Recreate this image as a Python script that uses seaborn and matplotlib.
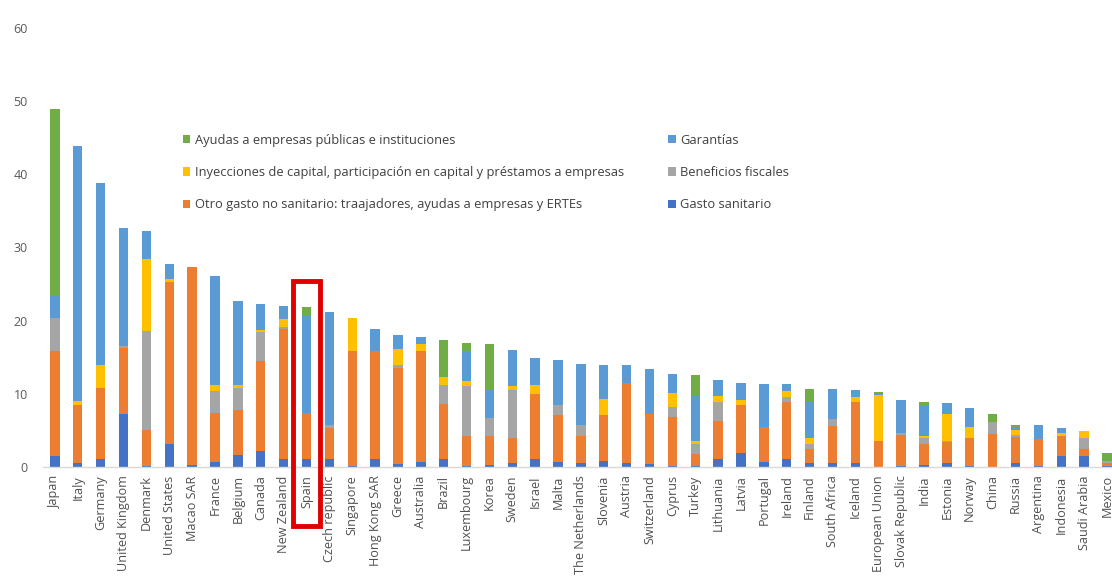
import numpy as np
import pandas as pd
import seaborn as sns
import matplotlib.pyplot as plt
from matplotlib.patches import Patch, Rectangle

countries = ["Japan", "Italy", "Germany", "United Kingdom", "Denmark", "United States",
             "Macao SAR", "France", "Belgium", "Canada", "New Zealand", "Spain",
             "Czech republic", "Singapore", "Hong Kong SAR", "Greece", "Australia", "Brazil",
             "Luxembourg", "Korea", "Sweden", "Israel", "Malta", "The Netherlands", "Slovenia",
             "Austria", "Switzerland", "Cyprus", "Turkey", "Lithuania", "Latvia", "Portugal",
             "Ireland", "Finland", "South Africa", "Iceland", "European Union",
             "Slovak Republic", "India", "Estonia", "Norway", "China", "Russia", "Argentina",
             "Indonesia", "Saudi Arabia", "Mexico"]

# % del PIB (de abajo hacia arriba en cada barra)
gasto_sanitario = [1.5, 0.5, 1.1, 7.3, 0.2, 3.1, 0.3, 0.7, 1.7, 2.2, 1.1, 1.1,
                   1.1, 0.2, 1.1, 0.4, 0.7, 1.1, 0.2, 0.3, 0.5, 1.1, 0.7, 0.6, 0.8,
                   0.6, 0.4, 0.2, 0.2, 1.1, 1.9, 0.7, 1.1, 0.6, 0.6, 0.5, 0.0,
                   0.2, 0.3, 0.6, 0.2, 0.0, 0.6, 0.2, 1.5, 1.5, 0.2]
otro_gasto = [14.3, 8.0, 9.7, 9.0, 4.8, 22.2, 27.0, 6.7, 6.1, 12.3, 17.8, 6.3,
              4.2, 15.7, 14.7, 13.1, 15.2, 7.5, 4.1, 4.0, 3.5, 8.9, 6.4, 3.7, 6.3,
              10.9, 6.9, 6.7, 1.6, 5.2, 6.6, 4.8, 7.8, 1.8, 5.0, 8.4, 3.5,
              4.2, 2.8, 2.8, 3.7, 4.5, 3.5, 3.6, 2.8, 0.9, 0.3]
beneficios_fiscales = [4.6, 0.0, 0.0, 0.3, 13.6, 0.0, 0.0, 3.0, 3.0, 3.9, 0.3, 0.0,
                       0.5, 0.0, 0.0, 0.5, 0.0, 2.6, 6.8, 2.4, 6.5, 0.0, 1.4, 1.5, 0.0,
                       0.0, 0.0, 1.3, 1.3, 2.6, 0.0, 0.0, 0.6, 0.7, 1.0, 0.0, 0.0,
                       0.3, 0.8, 0.2, 0.0, 1.7, 0.3, 0.0, 0.0, 1.6, 0.3]
inyecciones = [0.0, 0.5, 3.1, 0.0, 9.8, 0.4, 0.0, 0.8, 0.4, 0.3, 1.0, 0.0,
               0.0, 4.5, 0.0, 2.1, 0.9, 1.1, 0.6, 0.0, 0.6, 1.2, 0.0, 0.0, 2.2,
               0.0, 0.0, 1.9, 0.5, 0.8, 0.7, 0.0, 0.9, 0.9, 0.0, 0.6, 6.4,
               0.0, 0.3, 3.7, 1.6, 0.0, 0.7, 0.0, 0.3, 0.9, 0.0]
garantias = [3.0, 34.9, 24.9, 16.1, 3.9, 2.0, 0.0, 14.9, 11.5, 3.6, 1.8, 13.4,
             15.4, 0.0, 3.0, 1.9, 0.9, 0.0, 4.1, 3.8, 4.9, 3.7, 6.1, 8.3, 4.6,
             2.4, 6.1, 2.6, 6.3, 2.2, 2.3, 5.9, 0.9, 4.9, 4.0, 1.0, 0.2,
             4.5, 4.3, 1.4, 2.6, 0.0, 0.4, 1.9, 0.7, 0.0, 0.0]
ayudas_publicas = [25.5, 0.0, 0.0, 0.0, 0.0, 0.0, 0.0, 0.0, 0.0, 0.0, 0.0, 1.0,
                   0.0, 0.0, 0.0, 0.0, 0.0, 5.1, 1.2, 6.3, 0.0, 0.0, 0.0, 0.0, 0.0,
                   0.0, 0.0, 0.0, 2.7, 0.0, 0.0, 0.0, 0.0, 1.7, 0.0, 0.0, 0.2,
                   0.0, 0.4, 0.0, 0.0, 1.1, 0.3, 0.0, 0.0, 0.0, 1.1]

series = [
    ("Gasto sanitario", gasto_sanitario, "#4472C4"),
    ("Otro gasto no sanitario: traajadores, ayudas a empresas y ERTEs", otro_gasto, "#ED7D31"),
    ("Beneficios fiscales", beneficios_fiscales, "#A5A5A5"),
    ("Inyecciones de capital, participación en capital y préstamos a empresas", inyecciones, "#FFC000"),
    ("Garantías", garantias, "#5B9BD5"),
    ("Ayudas a empresas públicas e instituciones", ayudas_publicas, "#70AD47"),
]

sns.set_style("white")
plt.rcParams['font.family'] = ['Open Sans', 'DejaVu Sans']

fig = plt.figure(figsize=(11.12, 5.78), dpi=100)
ax = fig.add_axes([43 / 1112, 1 - 467 / 578, 1 - 43 / 1112, (467 - 28) / 578])

bottom = np.zeros(len(countries))
for name, vals, col in series:
    vals = np.array(vals)
    sns.barplot(x=countries, y=vals, bottom=bottom, color=col, width=0.41,
                errorbar=None, order=countries, ax=ax, linewidth=0, saturation=1)
    bottom += vals

ax.set_ylim(0, 60)
ax.set_xlim(-0.52, 46.22)
ax.set_yticks(range(0, 61, 10))
for s in ["top", "right", "left"]:
    ax.spines[s].set_visible(False)
ax.spines["bottom"].set_color("#D9D9D9")
ax.spines["bottom"].set_linewidth(1)
ax.tick_params(axis="y", length=0, labelsize=9, labelcolor="#595959", pad=11)
ax.tick_params(axis="x", length=0, labelsize=9.1, labelcolor="#505050", rotation=90, pad=6)
ax.set_xlabel("")
ax.set_ylabel("")

# recuadro rojo de España
i_spain = countries.index("Spain")
rect = Rectangle((i_spain - 0.57, -8.1), 1.14, 33.5, fill=False, edgecolor="#E00000",
                 linewidth=3.5, clip_on=False, zorder=5)
ax.add_patch(rect)

# leyenda estilo Excel (2 columnas)
order = [5, 3, 1, 4, 2, 0]
handles = [Patch(facecolor=series[k][2], edgecolor="none") for k in order]
labels = [series[k][0] for k in order]
fig.legend(handles, labels, loc="upper left", bbox_to_anchor=(171 / 1112, 1 - 122 / 578),
           ncol=2, frameon=False, handlelength=0.6, handleheight=0.6,
           handletextpad=0.35, labelspacing=1.5, columnspacing=3.4,
           prop={"family": ["Open Sans", "DejaVu Sans"], "size": 9.3},
           labelcolor="#404040")

fig.savefig("out.png", dpi=100)
